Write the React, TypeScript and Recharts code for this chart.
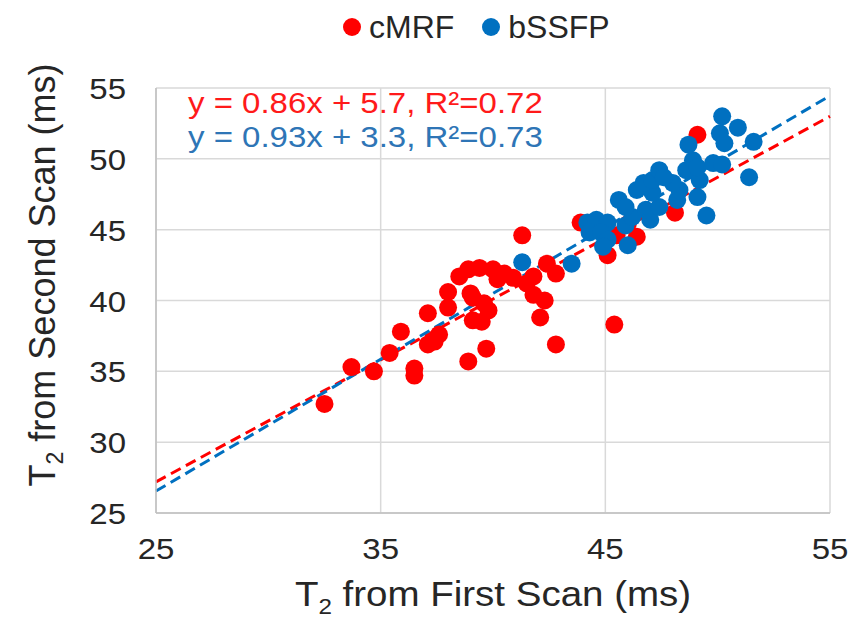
import React from 'react';
import { ScatterChart, Scatter, XAxis, YAxis, CartesianGrid, ReferenceLine, Legend } from 'recharts';

const seriesNames = ['cMRF', 'bSSFP'];
const seriesColors = ['#ff0000', '#0070c0'];
const labelColors = ['#ff1a1a', '#2e75b6'];

const cmrfFirst = [32.5, 33.7, 34.7, 35.4, 35.9, 36.5, 36.5, 37.1, 37.4, 37.6, 37.1, 38.0, 38.0, 38.5, 38.9, 39.4, 40.0, 39.0, 40.2, 39.8, 39.1, 39.5, 39.7, 38.9, 40.9, 41.3, 41.8, 41.8, 42.4, 42.8, 42.3, 42.1, 42.8, 43.9, 45.1, 45.4, 46.4, 48.1, 49.1, 44.5, 45.5, 46.0, 41.5, 40.5, 39.6, 39.1];
const cmrfSecond = [32.7, 35.3, 35.0, 36.3, 37.8, 35.2, 34.7, 36.9, 37.1, 37.6, 39.1, 40.6, 39.5, 41.7, 42.2, 42.3, 42.2, 40.5, 41.5, 39.3, 38.6, 38.5, 36.6, 35.7, 41.6, 44.6, 41.7, 40.4, 42.6, 41.9, 40.0, 38.8, 36.9, 45.5, 43.2, 38.3, 44.5, 46.2, 51.7, 45.0, 44.6, 45.4, 41.2, 41.9, 39.8, 40.2];

const bssfpFirst = [41.3, 43.5, 44.2, 44.6, 45.1, 44.3, 44.8, 45.1, 44.9, 45.9, 46.0, 46.2, 47.0, 45.6, 45.9, 46.8, 47.4, 48.2, 46.4, 47.1, 48.3, 49.1, 46.7, 47.1, 48.0, 49.2, 47.4, 47.6, 48.6, 48.9, 49.1, 49.8, 50.2, 48.7, 50.1, 50.3, 50.2, 50.9, 51.6, 51.4, 49.5];
const bssfpSecond = [42.7, 42.6, 45.5, 45.7, 45.5, 44.8, 44.8, 44.3, 43.8, 45.3, 43.9, 45.9, 45.7, 47.1, 46.6, 46.4, 46.6, 47.1, 47.8, 47.6, 47.8, 47.3, 48.3, 48.5, 48.3, 48.5, 49.2, 48.7, 49.2, 49.9, 49.4, 49.7, 49.6, 51.0, 51.8, 51.1, 53.0, 52.2, 51.2, 48.7, 46.0];

const xTicks = [25, 35, 45, 55];
const yTicks = [25, 30, 35, 40, 45, 50, 55];
const axisDomain = [25, 55];

const fitSlope = [0.86, 0.93];
const fitIntercept = [5.7, 3.3];
const fitLabels = ['y = 0.86x + 5.7, R²=0.72', 'y = 0.93x + 3.3, R²=0.73'];

const FONT = '"Liberation Sans", Arial, sans-serif';

const cmrfData = cmrfFirst.map((x, i) => ({ x, y: cmrfSecond[i] }));
const bssfpData = bssfpFirst.map((x, i) => ({ x, y: bssfpSecond[i] }));
const seriesData = [cmrfData, bssfpData];

const makeDot = (color: string) => (props: any) => (
  <circle cx={props.cx} cy={props.cy} r={9} fill={color} />
);

const XTick = (props: any) => {
  const { x, y, payload } = props;
  return (
    <text transform={`translate(${x},${y + 46}) scale(1.1,1)`} textAnchor="middle" fontSize={30} fontFamily={FONT} fill="#262626">
      {payload.value}
    </text>
  );
};

const YTick = (props: any) => {
  const { x, y, payload } = props;
  return (
    <text transform={`translate(${x - 30},${y + 11}) scale(1.1,1)`} textAnchor="end" fontSize={30} fontFamily={FONT} fill="#262626">
      {payload.value}
    </text>
  );
};

const LegendContent = () => (
  <div style={{ display: 'flex', alignItems: 'center', height: 44, paddingLeft: 343, fontFamily: FONT, fontSize: 32, color: '#262626' }}>
    {seriesNames.map((name, i) => (
      <div key={name} style={{ display: 'flex', alignItems: 'center', marginRight: 28 }}>
        <span style={{ display: 'inline-block', width: 18, height: 18, borderRadius: 9, background: seriesColors[i], marginRight: 8 }} />
        <span>{name}</span>
      </div>
    ))}
  </div>
);

export default function App() {
  return (
    <div style={{ position: 'absolute', left: 0, top: 0, background: '#fff' }}>
      <ScatterChart width={861} height={630} margin={{ top: 44, right: 31, bottom: 57, left: 0 }}>
        <CartesianGrid stroke="#d9d9d9" strokeWidth={1.5} />
        <XAxis
          type="number"
          dataKey="x"
          domain={axisDomain}
          ticks={xTicks}
          allowDataOverflow
          height={60}
          tickSize={0}
          tickMargin={0}
          tickLine={false}
          axisLine={{ stroke: '#bfbfbf', strokeWidth: 1.5 }}
          tick={<XTick />}
        />
        <YAxis
          type="number"
          dataKey="y"
          domain={axisDomain}
          ticks={yTicks}
          allowDataOverflow
          width={156}
          tickSize={0}
          tickMargin={0}
          tickLine={false}
          axisLine={{ stroke: '#bfbfbf', strokeWidth: 1.5 }}
          tick={<YTick />}
        />
        <Legend
          verticalAlign="top"
          layout="horizontal"
          align="left"
          wrapperStyle={{ top: 5, left: 0, width: 861, height: 44 }}
          content={<LegendContent />}
        />
        {seriesNames.map((name, i) => (
          <Scatter key={name} name={name} data={seriesData[i]} fill={seriesColors[i]} shape={makeDot(seriesColors[i])} isAnimationActive={false} />
        ))}
        {seriesNames.map((name, i) => (
          <ReferenceLine
            key={'fit' + name}
            segment={[
              { x: axisDomain[0], y: fitSlope[i] * axisDomain[0] + fitIntercept[i] },
              { x: axisDomain[1], y: fitSlope[i] * axisDomain[1] + fitIntercept[i] },
            ]}
            stroke={seriesColors[i]}
            strokeWidth={3}
            strokeDasharray="11 6"
            ifOverflow="visible"
          />
        ))}
        {fitLabels.map((t, i) => (
          <text key={t} transform={`translate(188,${113 + i * 34}) scale(1.1,1)`} fontSize={30} fontFamily={FONT} fill={labelColors[i]}>
            {t}
          </text>
        ))}
        <text transform="translate(493,606) scale(1.1,1)" textAnchor="middle" fontSize={35} fontFamily={FONT} fill="#262626">
          <tspan>T</tspan>
          <tspan fontSize={22} dy={8}>2</tspan>
          <tspan dy={-8}> from First Scan (ms)</tspan>
        </text>
        <text transform="translate(55,275) rotate(-90)" textAnchor="middle" fontSize={36} fontFamily={FONT} fill="#262626">
          <tspan>T</tspan>
          <tspan fontSize={23} dy={8}>2</tspan>
          <tspan dy={-8}> from Second Scan (ms)</tspan>
        </text>
      </ScatterChart>
    </div>
  );
}
